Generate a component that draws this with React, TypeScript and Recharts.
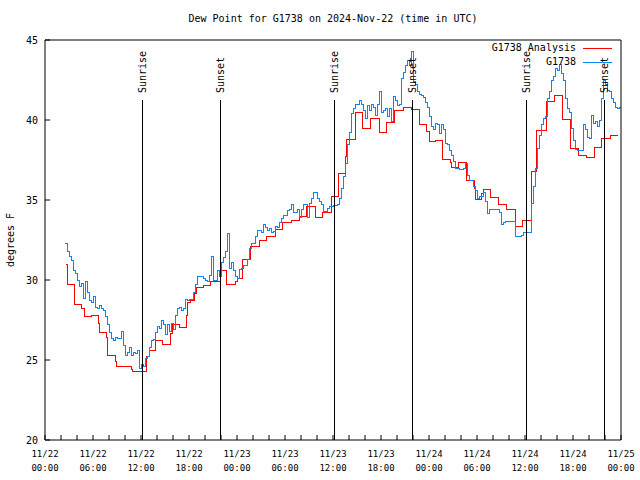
import React from 'react';
import { LineChart, Line, XAxis, YAxis, ReferenceLine, Legend } from 'recharts';

const MONO = '"DejaVu Sans Mono", "Liberation Mono", monospace';
const RED = '#ff0000';
const BLUE = '#0a84ff';

// G1738 station dew point (F), one value every 15 min starting 11/22 02:30 UTC
const obsStart = 2.5;
const obsStep = 0.25;
const obs22am = [
  32.3, 31.8, 31.5, 31.2, 30.6, 30.4, 30.0, 29.6, 29.8, 28.85,
  29.9, 29.2, 28.7, 28.6, 29.0, 28.3, 28.2, 28.4, 28.2, 28.1,
  27.7, 27.2, 26.7, 26.35, 26.2, 26.4, 26.35, 26.35, 26.8, 25.9,
  25.3, 25.5, 25.8, 25.3, 25.5, 25.4, 25.6, 24.5,
];
const obs22pm = [
  24.75, 24.6, 25.1, 25.2, 25.8, 26.2, 26.3, 26.7, 27.1, 27.0,
  27.5, 27.2, 26.6, 27.2, 26.8, 27.3, 26.9, 27.8, 28.25, 28.3,
  28.1, 28.2, 28.8, 28.7, 28.8, 28.8, 29.2, 29.7, 30.2, 30.25,
  30.25, 30.1, 30.0, 29.9, 30.3, 31.5, 30.0, 30.0, 30.6, 30.2,
  31.1, 31.4, 31.8, 32.9, 30.7, 31.1, 30.6, 30.2,
];
const obs23am = [
  30.1, 30.65, 30.73, 30.9, 30.9, 31.3, 31.95, 32.3, 32.3, 32.7,
  33.1, 33.1, 33.0, 33.44, 33.3, 33.1, 33.2, 33.0, 33.05, 33.35,
  33.3, 33.6, 33.85, 34.06, 34.06, 34.35, 34.38, 34.69, 34.2, 34.2,
  34.4, 33.9, 34.4, 34.7, 34.7, 33.9, 34.8, 35.1, 35.45, 35.5,
  35.1, 34.9, 34.7, 34.3, 34.3, 34.45, 34.6, 34.6,
];
const obs23pm = [
  34.65, 34.65, 34.7, 35.1, 35.7, 36.5, 37.3, 38.5, 39.2, 40.4,
  40.7, 41.0, 41.0, 41.2, 41.0, 40.6, 40.1, 40.9, 40.6, 41.0,
  40.8, 40.3, 41.0, 41.77, 40.5, 40.6, 40.7, 40.2, 40.7, 39.9,
  41.5, 41.2, 40.9, 41.0, 42.6, 43.0, 43.4, 43.75, 43.4, 44.3,
  42.4, 42.2, 41.8, 41.6, 41.56, 41.4, 41.1, 40.8,
];
const obs24am = [
  40.2, 39.6, 39.4, 39.8, 39.7, 39.17, 39.7, 39.4, 38.54, 38.44,
  38.1, 37.8, 37.4, 37.0, 37.0, 36.9, 36.9, 37.0, 37.3, 36.56,
  36.2, 36.25, 35.83, 35.6, 35.1, 35.2, 35.2, 35.5, 34.9, 34.17,
  34.4, 34.4, 34.4, 34.4, 34.4, 34.2, 33.44, 33.6, 33.65, 33.65,
  33.65, 33.65, 33.65, 32.7, 32.7, 32.7, 32.8, 32.96,
];
const obs24pm = [
  32.98, 32.98, 32.98, 34.8, 35.83, 37.0, 38.2, 39.06, 39.7, 40.1,
  40.2, 41.35, 41.8, 42.5, 42.7, 43.2, 43.1, 43.5, 42.9, 42.5,
  41.35, 40.7, 40.5, 39.5, 38.75, 38.17, 38.1, 38.1, 38.1, 39.7,
  39.4, 38.9, 38.85, 40.3, 39.8, 39.9, 39.6, 40.0, 41.35, 42.5,
  42.2, 41.875, 41.8, 41.35, 41.1, 40.8, 40.7, 40.8, 40.6,
];

// Analysis: each value holds from its hour until the next listed hour
const analysisHours = [
  2.6, 2.75, 2.83, 3.7, 4.6, 4.9, 5.75, 6.67, 6.8, 7.63,
  7.75, 7.83, 8.75, 8.875, 10.75, 10.92, 12.71, 13.04, 13.75, 14.71,
  15.71, 15.92, 16.79, 17.625, 17.79, 18.125, 18.625, 18.875, 19.79, 20.71,
  21.875, 22.71, 23.75, 24.08, 24.67, 25.625, 26.75, 27.71, 28.75, 29.67,
  30.75, 31.75, 32.71, 33.75, 34.67, 35.83, 36.67, 37.5, 37.71, 38.75,
  39.67, 40.625, 41.75, 42.71, 43.67, 44.79, 45.83, 46.79, 47.71, 48.0,
  48.75, 49.67, 50.625, 50.83, 51.67, 52.71, 53.67, 53.83, 54.58, 54.79,
  55.71, 56.67, 57.71, 58.75, 59.67, 60.83, 61.46, 62.71, 63.67, 64.71,
  65.71, 66.67, 67.71, 68.625, 69.58, 70.625, 71.6,
];
const analysisValues = [
  31.0, 30.6, 29.7, 28.5, 28.2, 27.7, 27.8, 27.3, 26.75, 26.4,
  25.7, 25.3, 24.9, 24.6, 24.4, 24.3, 25.25, 25.6, 26.2, 26.0,
  26.67, 27.25, 27.04, 27.8, 28.6, 28.75, 29.17, 29.54, 29.65, 29.9,
  30.6, 29.75, 29.9, 30.1, 31.3, 32.1, 32.5, 32.7, 33.17, 33.58,
  33.75, 34.0, 34.58, 33.9, 34.2, 35.2, 36.67, 37.7, 38.8, 40.46,
  39.48, 40.1, 39.2, 39.83, 40.58, 40.77, 40.67, 39.7, 39.3, 38.65,
  38.75, 37.54, 37.33, 37.04, 37.33, 36.25, 35.7, 35.04, 35.4, 35.67,
  35.17, 34.69, 34.4, 33.33, 33.75, 36.77, 39.375, 41.15, 41.56, 40.04,
  38.23, 37.8, 37.67, 38.3, 38.85, 39.06, 39.06,
];

const sunHours = [12.15, 21.9, 36.2, 45.9, 60.2, 69.9];
const sunEvents = ['Sunrise', 'Sunset', 'Sunrise', 'Sunset', 'Sunrise', 'Sunset'];
const sunLineTop = 41.25;

const majorTicks = [0, 6, 12, 18, 24, 30, 36, 42, 48, 54, 60, 66, 72];
const tickDates = ['11/22', '11/22', '11/22', '11/22', '11/23', '11/23', '11/23', '11/23', '11/24', '11/24', '11/24', '11/24', '11/25'];
const tickTimes = ['00:00', '06:00', '12:00', '18:00', '00:00', '06:00', '12:00', '18:00', '00:00', '06:00', '12:00', '18:00', '00:00'];
const xTicks = Array.from({ length: 37 }, (_, i) => i * 2);
const yTicks = [20, 25, 30, 35, 40, 45];

const obsData = [...obs22am, ...obs22pm, ...obs23am, ...obs23pm, ...obs24am, ...obs24pm].map((v, i) => ({
  h: obsStart + i * obsStep,
  v,
}));
const analysisData = analysisHours.map((h, i) => ({ h, v: analysisValues[i] }));

const legendItems = [
  { name: 'G1738 Analysis', color: RED },
  { name: 'G1738', color: BLUE },
];

const TimeTick = ({ x, y, payload }: any) => {
  const i = majorTicks.indexOf(payload.value);
  if (i < 0) return <g />;
  return (
    <text x={x} y={y} textAnchor="middle" fontFamily={MONO} fontSize={9} fill="#000">
      <tspan x={x} dy={17}>{tickDates[i]}</tspan>
      <tspan x={x} dy={14}>{tickTimes[i]}</tspan>
    </text>
  );
};

const SunLabel = ({ viewBox, value }: any) => {
  if (!viewBox) return null;
  const x = viewBox.x;
  const y = viewBox.y - 7;
  return (
    <text
      x={x}
      y={y}
      transform={`rotate(-90 ${x} ${y})`}
      textAnchor="start"
      dominantBaseline="central"
      fontFamily={MONO}
      fontSize={10}
      fill="#000"
    >
      {value}
    </text>
  );
};

const YTitle = ({ viewBox }: any) => {
  const x = viewBox.x + 10;
  const y = viewBox.y + viewBox.height / 2;
  return (
    <text x={x} y={y} transform={`rotate(-90 ${x} ${y})`} textAnchor="middle" dominantBaseline="central" fontFamily={MONO} fontSize={10} fill="#000">
      degrees F
    </text>
  );
};

const LegendBox = () => (
  <div style={{ fontFamily: MONO, fontSize: 10, lineHeight: '14px', color: '#000' }}>
    {legendItems.map(item => (
      <div key={item.name} style={{ display: 'flex', justifyContent: 'flex-end', alignItems: 'center' }}>
        <span>{item.name}</span>
        <span style={{ display: 'inline-block', width: 29, height: 1, background: item.color, marginLeft: 7 }} />
      </div>
    ))}
  </div>
);

export default function App() {
  return (
    <div style={{ position: 'absolute', left: 0, top: 0, width: 640, height: 480, background: '#fff' }}>
      <div
        style={{
          position: 'absolute', left: 0, top: 12, width: 666, textAlign: 'center',
          fontFamily: MONO, fontSize: 10, lineHeight: '14px', color: '#000',
        }}
      >
        Dew Point for G1738 on 2024-Nov-22 (time in UTC)
      </div>
      <LineChart width={640} height={480} margin={{ top: 39, right: 18, bottom: 0, left: 0 }}>
        <XAxis
          type="number"
          dataKey="h"
          domain={[0, 72]}
          allowDataOverflow
          ticks={xTicks}
          interval={0}
          height={40}
          tickSize={-5}
          tickMargin={5}
          tick={<TimeTick />}
          stroke="#000"
        />
        <XAxis
          xAxisId="top"
          orientation="top"
          type="number"
          dataKey="h"
          domain={[0, 72]}
          allowDataOverflow
          ticks={xTicks}
          interval={0}
          height={1}
          tickSize={-5}
          tick={false}
          stroke="#000"
        />
        <YAxis
          type="number"
          domain={[20, 45]}
          allowDataOverflow
          ticks={yTicks}
          interval={0}
          width={45}
          tickSize={-5}
          tickMargin={12}
          tick={{ fill: '#000', fontSize: 10, fontFamily: MONO }}
          stroke="#000"
          label={<YTitle />}
        />
        <YAxis
          yAxisId="right"
          orientation="right"
          type="number"
          domain={[20, 45]}
          allowDataOverflow
          ticks={yTicks}
          interval={0}
          width={1}
          tickSize={-5}
          tick={false}
          stroke="#000"
        />
        <Legend
          content={<LegendBox />}
          layout="horizontal"
          verticalAlign="middle"
          align="center"
          wrapperStyle={{ top: 41, left: 400, width: 212 }}
        />
        <Line
          data={analysisData}
          dataKey="v"
          name="G1738 Analysis"
          type="stepAfter"
          stroke={RED}
          strokeWidth={1}
          shapeRendering="crispEdges"
          dot={false}
          isAnimationActive={false}
        />
        <Line
          data={obsData}
          dataKey="v"
          name="G1738"
          xAxisId="top"
          yAxisId="right"
          type="stepAfter"
          stroke={BLUE}
          strokeWidth={1}
          shapeRendering="crispEdges"
          dot={false}
          isAnimationActive={false}
        />
        {sunHours.map((h, i) => (
          <ReferenceLine
            key={h}
            segment={[{ x: h, y: 20 }, { x: h, y: sunLineTop }]}
            stroke="#000"
            strokeWidth={1}
            shapeRendering="crispEdges"
            label={<SunLabel value={sunEvents[i]} />}
          />
        ))}
      </LineChart>
    </div>
  );
}
